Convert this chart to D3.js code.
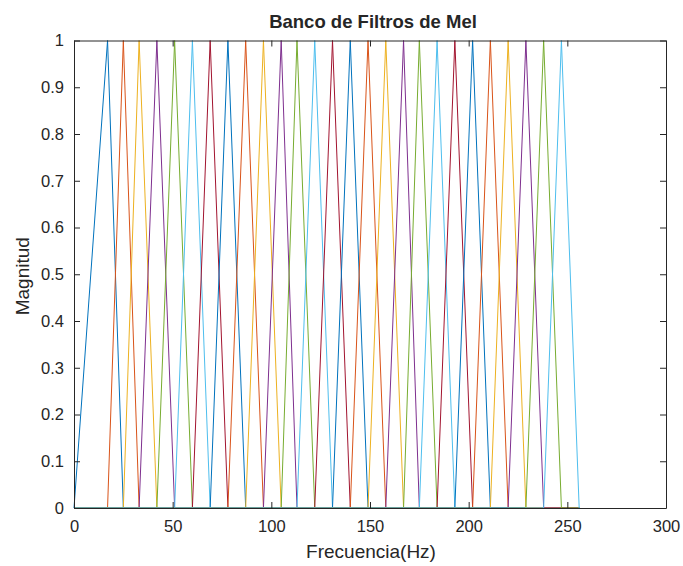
<!DOCTYPE html>
<html>
<head>
<meta charset="utf-8">
<script src="https://cdn.jsdelivr.net/npm/d3@7"></script>
<style>
  html, body { margin: 0; padding: 0; background: #ffffff; }
  svg { display: block; }
  text { font-family: "Liberation Sans", Arial, Helvetica, sans-serif; fill: #262626; }
</style>
</head>
<body>
<svg id="chart" width="683" height="566"></svg>
<script>
// Edge frequencies of the triangular filters: filter i rises from edges[i],
// peaks at edges[i+1] and falls back to zero at edges[i+2].
const edges = [0, 17, 25, 33, 42, 51, 60, 69, 78, 87, 96, 105, 113, 122, 131,
               140, 149, 158, 167, 175, 184, 193, 202, 211, 220, 229, 238, 247, 256];
// Each filter is evaluated over the full band, zero outside its triangle.
const bandStart = 0;
const bandEnd = 256;

const xTicks = [0, 50, 100, 150, 200, 250, 300];
const yTicks = [0, 0.1, 0.2, 0.3, 0.4, 0.5, 0.6, 0.7, 0.8, 0.9, 1];
const palette = ["#0072BD", "#D95319", "#EDB120", "#7E2F8E", "#77AC30", "#4DBEEE", "#A2142F"];

const titleText = "Banco de Filtros de Mel";
const xLabelText = "Frecuencia(Hz)";
const yLabelText = "Magnitud";

const svg = d3.select("#chart");
const margin = { left: 74, right: 17, top: 40.5, bottom: 58 };
const W = 683, H = 566;

const x = d3.scaleLinear().domain([0, 300]).range([margin.left, W - margin.right]);
const y = d3.scaleLinear().domain([0, 1]).range([H - margin.bottom, margin.top]);

// Build each filter as a polyline spanning the whole band.
const filters = d3.range(edges.length - 2).map(i => {
  const pts = [];
  const a = edges[i], b = edges[i + 1], c = edges[i + 2];
  if (a > bandStart) pts.push([bandStart, 0]);
  pts.push([a, 0], [b, 1], [c, 0]);
  if (c < bandEnd) pts.push([bandEnd, 0]);
  return pts;
});

const line = d3.line().x(d => x(d[0])).y(d => y(d[1]));

svg.append("g")
  .selectAll("path")
  .data(filters)
  .join("path")
  .attr("d", line)
  .attr("fill", "none")
  .attr("stroke", (d, i) => palette[i % palette.length])
  .attr("stroke-width", 1)
  .attr("stroke-linejoin", "miter");

// Axes with inward ticks on all four sides.
const tickLen = 6;
const axisColor = "#262626";

function styleAxis(g, showLabels) {
  g.select(".domain").attr("stroke", axisColor).attr("stroke-width", 1);
  g.selectAll(".tick line").attr("stroke", axisColor).attr("stroke-width", 1);
  g.selectAll(".tick text")
    .attr("fill", axisColor)
    .style("font-size", "16.5px")
    .style("font-family", "'Liberation Sans', Arial, sans-serif")
    .attr("display", showLabels ? null : "none");
}

svg.append("g")
  .attr("transform", `translate(0,${y(0)})`)
  .call(d3.axisBottom(x).tickValues(xTicks).tickFormat(d3.format("d"))
    .tickSizeInner(-tickLen).tickSizeOuter(0).tickPadding(12))
  .call(g => styleAxis(g, true));

svg.append("g")
  .attr("transform", `translate(0,${y(1)})`)
  .call(d3.axisTop(x).tickValues(xTicks).tickSizeInner(-tickLen).tickSizeOuter(0))
  .call(g => styleAxis(g, false));

svg.append("g")
  .attr("transform", `translate(${x(0)},0)`)
  .call(d3.axisLeft(y).tickValues(yTicks).tickFormat(d => d === 0 || d === 1 ? d3.format("d")(d) : d3.format(".1f")(d))
    .tickSizeInner(-tickLen).tickSizeOuter(0).tickPadding(10))
  .call(g => styleAxis(g, true));

svg.append("g")
  .attr("transform", `translate(${x(300)},0)`)
  .call(d3.axisRight(y).tickValues(yTicks).tickSizeInner(-tickLen).tickSizeOuter(0))
  .call(g => styleAxis(g, false));

// Title and axis labels.
const cx = (x(0) + x(300)) / 2;
svg.append("text")
  .attr("x", cx + 3).attr("y", 28)
  .attr("text-anchor", "middle")
  .style("font-size", "18.5px").style("font-weight", "bold")
  .attr("fill", "#000")
  .text(titleText);

svg.append("text")
  .attr("x", cx + 1).attr("y", 558)
  .attr("text-anchor", "middle")
  .style("font-size", "19px")
  .text(xLabelText);

svg.append("text")
  .attr("transform", `translate(29,${(y(0) + y(1)) / 2 + 2}) rotate(-90)`)
  .attr("text-anchor", "middle")
  .style("font-size", "19px")
  .text(yLabelText);
</script>
</body>
</html>
